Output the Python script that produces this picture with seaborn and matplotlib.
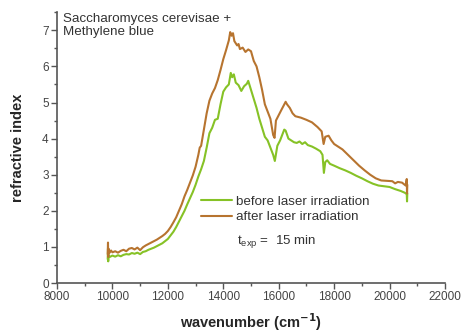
import numpy as np
import pandas as pd
import matplotlib
matplotlib.use('Agg')
import matplotlib.pyplot as plt
import seaborn as sns
from matplotlib.ticker import MultipleLocator

# after laser irradiation (brown)
wn_after = [9830, 9840, 9848, 9858, 9900, 9950, 10000, 10100, 10200, 10300, 10400, 10500,
            10600, 10700, 10800, 10900, 11000, 11100, 11200, 11300, 11400, 11500, 11600,
            11700, 11800, 11900, 12000, 12100, 12200, 12300, 12400, 12500, 12600, 12700,
            12800, 12900, 13000, 13100, 13150, 13200, 13300, 13400, 13500, 13600, 13700,
            13800, 13900, 14000, 14100, 14200, 14250, 14300, 14350, 14400, 14500, 14550,
            14600, 14700, 14800, 14900, 15000, 15100, 15200, 15300, 15400, 15500, 15600,
            15700, 15800, 15850, 15900, 16000, 16100, 16250, 16300, 16400, 16500, 16600,
            16800, 17000, 17200, 17400, 17550, 17620, 17680, 17800, 17900, 18000, 18200,
            18300, 18500, 18700, 18900, 19100, 19300, 19500, 19700, 19900, 20100, 20200,
            20300, 20450, 20580, 20620, 20630, 20640]
ri_after = [0.80, 1.12, 0.72, 0.95, 0.84, 0.90, 0.85, 0.88, 0.84, 0.89, 0.92, 0.88,
            0.95, 0.97, 0.93, 0.98, 0.91, 0.99, 1.04, 1.08, 1.12, 1.16, 1.20,
            1.25, 1.30, 1.36, 1.44, 1.55, 1.68, 1.82, 2.00, 2.18, 2.40, 2.58,
            2.78, 2.98, 3.22, 3.55, 3.75, 3.80, 4.25, 4.70, 5.05, 5.25, 5.40,
            5.62, 5.90, 6.20, 6.45, 6.72, 6.95, 6.85, 6.92, 6.70, 6.58, 6.62,
            6.48, 6.52, 6.40, 6.47, 6.42, 6.15, 6.00, 5.70, 5.35, 4.95, 4.75,
            4.55, 4.10, 4.02, 4.50, 4.65, 4.80, 5.02, 4.95, 4.85, 4.70, 4.62,
            4.58, 4.52, 4.45, 4.32, 4.20, 3.85, 4.05, 4.08, 3.95, 3.85, 3.75,
            3.70, 3.55, 3.40, 3.25, 3.12, 3.00, 2.90, 2.84, 2.83, 2.82, 2.76,
            2.80, 2.78, 2.70, 2.88, 2.48, 2.72]

# before laser irradiation (green)
wn_before = [9830, 9840, 9848, 9858, 9900, 10000, 10100, 10200, 10300, 10400, 10500,
             10600, 10700, 10800, 10900, 11000, 11100, 11200, 11300, 11400, 11500, 11600,
             11700, 11800, 11900, 12000, 12100, 12200, 12300, 12400, 12500, 12600, 12700,
             12800, 12900, 13000, 13100, 13200, 13300, 13400, 13500, 13600, 13700, 13800,
             13900, 14000, 14100, 14200, 14270, 14320, 14380, 14450, 14550, 14650, 14750,
             14850, 14900, 15000, 15100, 15200, 15300, 15400, 15500, 15600, 15700, 15800,
             15860, 15950, 16050, 16200, 16250, 16350, 16450, 16550, 16650, 16750, 16850,
             16950, 17050, 17200, 17350, 17500, 17580, 17630, 17680, 17750, 17850, 18000,
             18200, 18400, 18600, 18800, 19000, 19200, 19400, 19600, 19800, 20000, 20200,
             20400, 20550, 20620, 20630, 20640]
ri_before = [0.66, 0.95, 0.60, 0.78, 0.72, 0.76, 0.73, 0.77, 0.74, 0.78, 0.80,
             0.79, 0.83, 0.81, 0.84, 0.80, 0.86, 0.88, 0.92, 0.95, 0.98, 1.02,
             1.06, 1.10, 1.16, 1.22, 1.32, 1.42, 1.55, 1.70, 1.85, 2.00, 2.18,
             2.35, 2.52, 2.72, 2.95, 3.15, 3.38, 3.75, 4.15, 4.30, 4.52, 4.55,
             4.95, 5.30, 5.42, 5.50, 5.82, 5.70, 5.78, 5.55, 5.48, 5.32, 5.45,
             5.52, 5.60, 5.35, 5.10, 4.85, 4.55, 4.30, 4.05, 3.95, 3.75, 3.55,
             3.38, 3.80, 3.95, 4.25, 4.22, 4.00, 3.95, 3.90, 3.88, 3.92, 3.85,
             3.90, 3.82, 3.78, 3.72, 3.65, 3.55, 3.05, 3.35, 3.40, 3.30, 3.25,
             3.18, 3.12, 3.05, 2.97, 2.90, 2.82, 2.75, 2.70, 2.68, 2.66, 2.60,
             2.55, 2.50, 2.46, 2.26, 2.48]

x_ticks = [8000, 10000, 12000, 14000, 16000, 18000, 20000, 22000]
y_ticks = [0, 1, 2, 3, 4, 5, 6, 7]

green = '#86c226'
brown = '#b7742f'

sns.set_style('ticks')
plt.rcParams['font.family'] = ['Liberation Sans', 'DejaVu Sans']

fig = plt.figure(figsize=(4.61, 3.35), dpi=100)
ax = fig.add_axes([57 / 461, 1 - 283 / 335, 388 / 461, (283 - 12.25) / 335])

before = pd.DataFrame({'wavenumber': wn_before, 'ri': ri_before})
after = pd.DataFrame({'wavenumber': wn_after, 'ri': ri_after})
sns.lineplot(x='wavenumber', y='ri', data=before, color=green, lw=1.5,
             estimator=None, sort=False, ax=ax, label='before laser irradiation')
sns.lineplot(x='wavenumber', y='ri', data=after, color=brown, lw=1.5,
             estimator=None, sort=False, ax=ax, label='after laser irradiation')

ax.set_xlim(8000, 22000)
ax.set_ylim(0, 7.5)
ax.set_xticks(x_ticks)
ax.set_yticks(y_ticks)
ax.xaxis.set_minor_locator(MultipleLocator(1000))
ax.yaxis.set_minor_locator(MultipleLocator(0.5))
ax.tick_params(which='major', direction='out', length=4, width=1, color='#555',
               labelsize=8.5, labelcolor='#444', pad=2)
ax.tick_params(which='minor', direction='out', length=2, width=1, color='#555')
for s in ['top', 'right']:
    ax.spines[s].set_visible(False)
for s in ['left', 'bottom']:
    ax.spines[s].set_color('#555')
    ax.spines[s].set_linewidth(1.2)

ax.set_xlabel(r'wavenumber (cm$^{\mathbf{-1}}$)', fontsize=10.5, fontweight='bold', labelpad=6)
ax.set_ylabel('refractive index', fontsize=10.5, fontweight='bold', labelpad=12)

leg = ax.legend(loc='upper left', bbox_to_anchor=(0.436, 0.417), bbox_transform=fig.transFigure,
                frameon=False, borderaxespad=0, borderpad=0, handlelength=2.3,
                handletextpad=0.3, labelspacing=0.25, fontsize=9.6)
for t in leg.get_texts():
    t.set_color('#333')

fig.text(237 / 461, 1 - 242 / 335, r'$\mathregular{t_{exp}}$ =  15 min', fontsize=9.6,
         color='#333', va='center', ha='left')
fig.text(63 / 461, 1 - 13 / 335, 'Saccharomyces cerevisae +\nMethylene blue', fontsize=9.6,
         color='#333', va='top', ha='left', linespacing=1.1)

fig.savefig('out.png', dpi=100)
